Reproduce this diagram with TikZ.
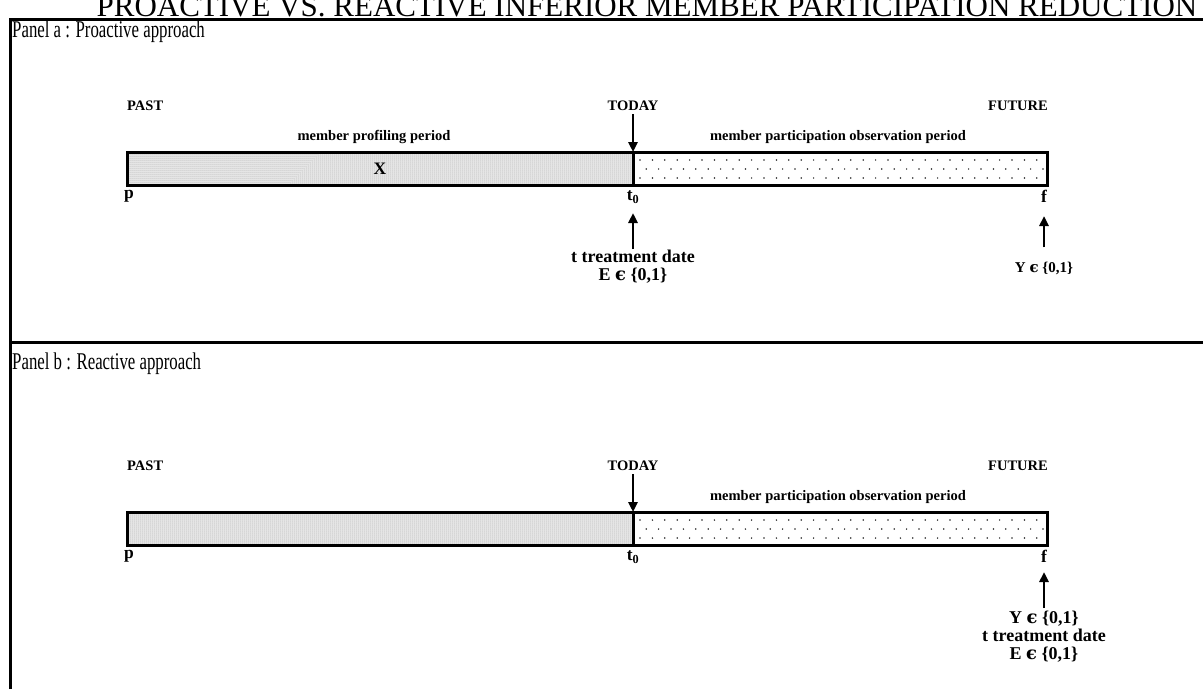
\documentclass[tikz,border=0pt]{standalone}
\usepackage{fontspec}
\setmainfont{Liberation Serif}
\newfontfamily\dvs{DejaVu Serif}
\usetikzlibrary{arrows.meta,patterns.meta}
\begin{document}
\begin{tikzpicture}[x=1pt,y=-1pt,
  lbl/.style={inner sep=0pt,font=\bfseries\fontsize{14.5}{17.5}\selectfont},
  biglbl/.style={inner sep=0pt,font=\bfseries\fontsize{17.5}{18}\selectfont},
  treatlbl/.style={inner sep=0pt,align=center,font=\bfseries\fontsize{18}{18}\selectfont},
  ylbl/.style={inner sep=0pt,font=\bfseries\fontsize{15}{18}\selectfont},
  panellbl/.style={inner sep=0pt,anchor=west},
  frame/.style={line width=3pt},
  barborder/.style={line width=3pt},
  fineshade/.style={fill=black!7,postaction={pattern={Dots[distance=2pt,radius=0.5pt]},pattern color=black!45}},
  bigarrow/.style={line width=2.8pt,-{Triangle[length=10pt,width=9pt]}},
  dot/.style={fill=black!85}
]
\newcommand{\eps}{{\dvs\bfseries ϵ}}
\useasboundingbox (0,0) rectangle (1203,689);
\begin{scope}
\clip (0,0) rectangle (1203,689);
\node[inner sep=0pt,anchor=base] (title) at (647,16) {\fontsize{31}{36}\selectfont PROACTIVE VS. REACTIVE INFERIOR MEMBER PARTICIPATION REDUCTION};
\end{scope}
% frame
\fill[white] (0,17.5) rectangle (1203,20.5);
\draw[frame] (10,689) -- (10,19) -- (1203,19);
\draw[frame] (10,342) -- (1203,342);
\node[panellbl] (pa) at (12,31.5) {\scalebox{0.7}[1]{\fontsize{24}{28}\selectfont Panel a : Proactive approach}};
\node[panellbl] (pb) at (12,363.5) {\scalebox{0.7}[1]{\fontsize{24}{28}\selectfont Panel b : Reactive approach}};

% ---------- Panel a ----------
\fill[fineshade] (127,152) rectangle (633,185);
\foreach \r/\yy in {0/160,1/169,2/178}{
  \pgfmathsetmacro{\off}{mod(\r,2)*6.2}
  \foreach \i in {0,...,32}{
    \fill[dot] (640+\off+\i*12.4,\yy) circle (0.85pt);
  }
}
\draw[barborder] (127,152) rectangle (1047,185);
\draw[barborder] (633,152) -- (633,185);
\coordinate (atop) at (633,152);
\coordinate (t0Atip) at (633,213);
\coordinate (fAtip) at (1044,216);

\node[lbl,anchor=west] (pastA) at (127,106) {PAST};
\node[lbl] (todayA) at (633,106) {TODAY};
\node[lbl,anchor=east] (futA) at (1048,106) {FUTURE};
\node[lbl] (profA) at (374,137) {member profiling period};
\node[lbl] (obsA) at (838,137) {member participation observation period};
\node[biglbl] (xA) at (380,169) {X};
\node[biglbl] (pA) at (129,196) {p};
\node[biglbl] (t0A) at (633,197) {t\textsubscript{0}};
\node[biglbl] (fA) at (1044,196) {f};
\node[treatlbl] (treatA) at (633,267) {t treatment date\\E \eps{} \{0,1\}};
\node[ylbl] (yA) at (1044,268) {Y \eps{} \{0,1\}};
\draw[bigarrow] (todayA.south) ++(0,3) -- (atop);
\draw[bigarrow] (treatA.north) ++(0,-1) -- (t0Atip);
\draw[bigarrow] (yA.north) ++(0,-14) -- (fAtip);

% ---------- Panel b ----------
\fill[fineshade] (127,512) rectangle (633,545);
\foreach \r/\yy in {0/520,1/529,2/538}{
  \pgfmathsetmacro{\off}{mod(\r,2)*6.2}
  \foreach \i in {0,...,32}{
    \fill[dot] (640+\off+\i*12.4,\yy) circle (0.85pt);
  }
}
\draw[barborder] (127,512) rectangle (1047,545);
\draw[barborder] (633,512) -- (633,545);
\coordinate (btop) at (633,512);
\coordinate (fBtip) at (1044,572);

\node[lbl,anchor=west] (pastB) at (127,466) {PAST};
\node[lbl] (todayB) at (633,466) {TODAY};
\node[lbl,anchor=east] (futB) at (1048,466) {FUTURE};
\node[lbl] (obsB) at (838,497) {member participation observation period};
\node[biglbl] (pB) at (129,556) {p};
\node[biglbl] (t0B) at (633,557) {t\textsubscript{0}};
\node[biglbl] (fB) at (1044,556) {f};
\node[treatlbl] (treatB) at (1044,637) {Y \eps{} \{0,1\}\\t treatment date\\E \eps{} \{0,1\}};
\draw[bigarrow] (todayB.south) ++(0,3) -- (btop);
\draw[bigarrow] (treatB.north) ++(0,-3) -- (fBtip);
\end{tikzpicture}
\end{document}
